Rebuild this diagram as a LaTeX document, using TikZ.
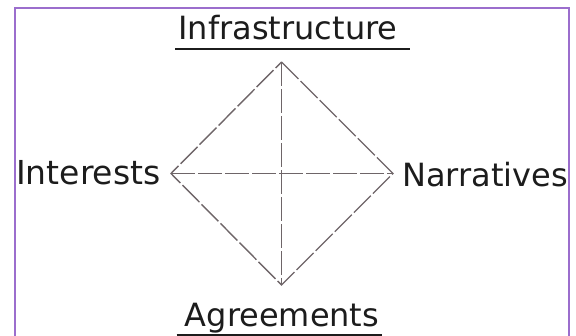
\documentclass[tikz,border=0pt]{standalone}
\usepackage{fontspec}
\setmainfont{DejaVu Sans}
\definecolor{frame}{RGB}{155,110,205}
\definecolor{edge}{RGB}{110,101,104}
\definecolor{ink}{RGB}{28,28,28}
\tikzset{
  lbl/.style={inner sep=0pt, text=ink, font=\fontsize{32}{38}\selectfont},
  axis/.style={edge, line width=1.4pt, dash pattern=on 24pt off 3pt},
  uline/.style={ink, line width=1.8pt}
}
\begin{document}
\begin{tikzpicture}[x=1pt,y=-1pt]
  \useasboundingbox (0,0) rectangle (576,336);
  \draw[frame, line width=2.2pt](15,340)--(15,8)--(569,8)--(569,340);
  \node[lbl, anchor=base] (infra) at (288,40) {Infrastructure};
  \node[lbl, anchor=base] (agree) at (282,327) {Agreements};
  \node[lbl, anchor=base west, font=\fontsize{33}{39}\selectfont] (inter) at (16,185) {Interests};
  \node[lbl, anchor=base east] (narr) at (568,187) {Narratives};
  \draw[uline]([xshift=-3pt,yshift=-9pt]infra.base west)--([xshift=12pt,yshift=-9pt]infra.base east);
  \draw[uline]([xshift=-8pt,yshift=-8pt]agree.base west)--([xshift=3pt,yshift=-8pt]agree.base east);
  \coordinate (top) at (281.5,62);
  \coordinate (bot) at (281.5,285);
  \coordinate (lft) at (171,173.5);
  \coordinate (rgt) at (393,173.5);
  \draw[axis](top)--(rgt)--(bot)--(lft)--cycle;
  \draw[axis](top)--(bot);
  \draw[axis](lft)--(rgt);
\end{tikzpicture}
\end{document}
